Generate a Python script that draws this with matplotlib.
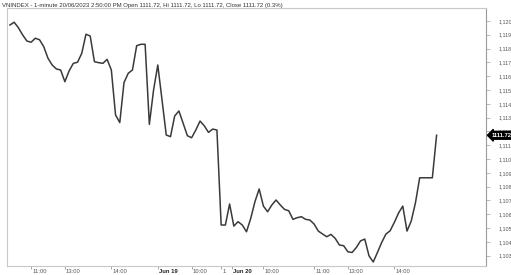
import matplotlib
matplotlib.use("Agg")
import matplotlib.pyplot as plt
import matplotlib.transforms as mtransforms

plt.rcParams["font.family"] = ["Liberation Sans", "DejaVu Sans"]

# ── DATA ──
TITLE = ("VNINDEX - 1-minute 20/06/2023 2:50:00 PM Open 1111.72, Hi 1111.72, "
         "Lo 1111.72, Close 1111.72 (0.3%)")

closes = [
    1119.71, 1119.91, 1119.51, 1118.99, 1118.55, 1118.46, 1118.75, 1118.64,
    1118.14, 1117.30, 1116.81, 1116.52, 1116.45, 1115.60, 1116.38, 1116.93,
    1117.01, 1117.66, 1119.04, 1118.91, 1117.05, 1116.98, 1116.93, 1117.22,
    1116.45, 1113.19, 1112.64, 1115.54, 1116.21, 1116.45, 1118.21, 1118.31,
    1118.31, 1112.51, 1115.00, 1116.81, 1114.28, 1111.74, 1111.62, 1113.12,
    1113.48, 1112.59, 1111.69, 1111.54, 1112.10, 1112.75, 1112.41, 1111.93,
    1112.17, 1112.10, 1105.22, 1105.22, 1106.74, 1105.14, 1105.46, 1105.22,
    1104.73, 1105.70, 1106.91, 1107.83, 1106.59, 1106.18, 1106.67, 1107.03,
    1106.67, 1106.35, 1106.25, 1105.63, 1105.75, 1105.82, 1105.63, 1105.58,
    1105.29, 1104.78, 1104.57, 1104.37, 1104.54, 1104.25, 1103.77, 1103.72,
    1103.28, 1103.23, 1103.59, 1104.07, 1104.20, 1102.99, 1102.54, 1103.23,
    1103.95, 1104.56, 1104.80, 1105.41, 1106.09, 1106.59, 1104.78, 1105.51,
    1106.83, 1108.64, 1108.64, 1108.64, 1108.64, 1111.72,
]
last_close = 1111.72

time_ticks = [5, 13, 24, 43, 50, 60, 72, 80, 91]
time_labels = ["11:00", "13:00", "14:00", "10:00", "1", "10:00", "11:00", "13:00", "14:00"]
day_ticks = [35, 52.5]
day_labels = ["Jun 19", "Jun 20"]

price_ticks = list(range(1103, 1121))
price_labels = [f"1,{p - 1000:03d}" for p in price_ticks]

# ── PLOT ──
fig = plt.figure(figsize=(5.11, 2.75), dpi=100)
ax = fig.add_axes([7 / 511, 9 / 275, 479 / 511, 258 / 275])

ax.plot(range(len(closes)), closes, color="#3a3a3a", linewidth=1.1, solid_joinstyle="round")

ax.set_xlim(-0.7, 112.7)
ax.set_ylim(1102.25, 1120.94)

for side in ["left", "top", "bottom"]:
    ax.spines[side].set_color("#c8c8c8")
    ax.spines[side].set_linewidth(0.8)
ax.spines["right"].set_color("#9a9a9a")
ax.spines["right"].set_linewidth(0.8)

ax.yaxis.tick_right()
ax.set_yticks(price_ticks)
ax.set_yticklabels(price_labels)
ax.tick_params(axis="y", length=3, width=0.6, color="#b0b0b0", pad=6,
               labelsize=3.9, labelcolor="#555555")

ax.set_xticks(time_ticks + day_ticks)
ax.set_xticklabels(time_labels + day_labels, ha="left")
ax.tick_params(axis="x", length=2, width=0.6, color="#999999", pad=0.5,
               labelsize=4.2, labelcolor="#555555")
for lbl in ax.get_xticklabels():
    if lbl.get_text().startswith("Jun"):
        lbl.set_fontweight("bold")
        lbl.set_color("#222222")
offset = mtransforms.ScaledTranslation(1 / 100, 0, fig.dpi_scale_trans)
for lbl in ax.get_xticklabels():
    lbl.set_transform(lbl.get_transform() + offset)

# last price tag on the right axis
tag_trans = mtransforms.blended_transform_factory(ax.transAxes, ax.transData)
ax.text(1.012, last_close, f"{last_close:.2f}", transform=tag_trans,
        fontsize=4.2, color="white", va="center", ha="left", fontweight="bold",
        bbox=dict(boxstyle="larrow,pad=0.25", fc="black", ec="black"), clip_on=False)

fig.text(2 / 511, 1 - 5 / 275, TITLE, fontsize=4.3, color="#333333", va="center", ha="left")

fig.savefig("out.png", dpi=100)
